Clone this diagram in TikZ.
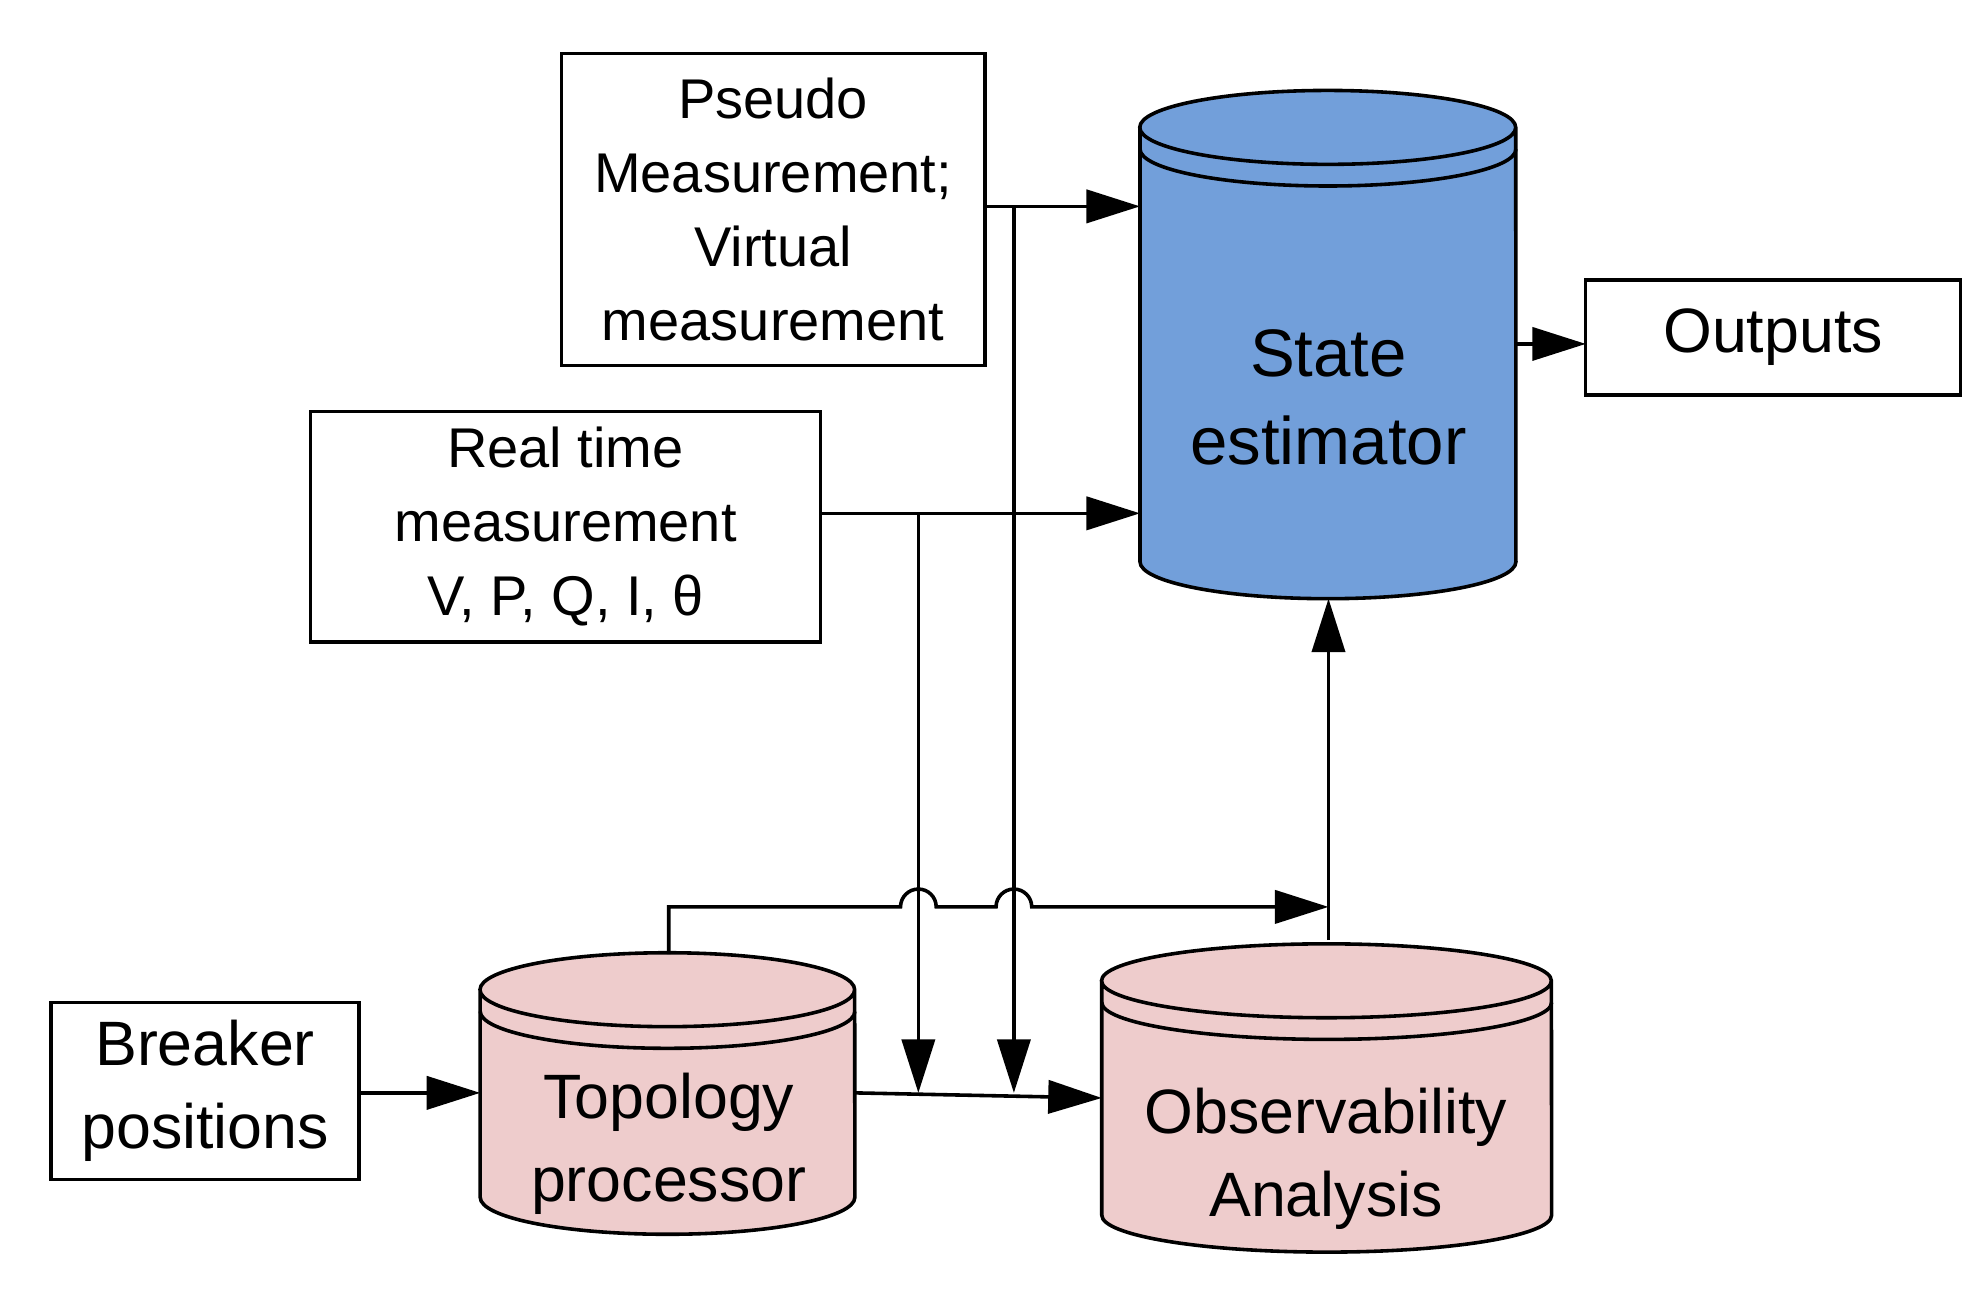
\documentclass[tikz,border=0pt]{standalone}
\usepackage{fontspec}
\setmainfont{Liberation Sans}
\usetikzlibrary{arrows.meta}
\definecolor{blueC}{HTML}{729FDA}
\definecolor{pinkC}{HTML}{EECCCC}
\newcommand{\mycyl}[6]{% x1 x2 ytop ybot rx(cm) fill ; ry fixed
  \fill[#6] (#1,#3) -- (#1,#4) arc[start angle=180,end angle=360,x radius=#5,y radius=0.29cm] -- (#2,#3) arc[start angle=0,end angle=180,x radius=#5,y radius=0.29cm] -- cycle;
  \draw[line width=0.8pt] (#1,#3) -- (#1,#4) arc[start angle=180,end angle=360,x radius=#5,y radius=0.29cm] -- (#2,#3) arc[start angle=0,end angle=360,x radius=#5,y radius=0.29cm];
  \draw[line width=0.8pt] (#1,#3+17) arc[start angle=180,end angle=360,x radius=#5,y radius=0.29cm];
}
\begin{document}
\begin{tikzpicture}[x=0.01cm,y=-0.01cm,
  box/.style={draw,line width=0.8pt,align=center,inner sep=0pt,font=\fontsize{12.5}{16.5}\selectfont},
  lbl/.style={align=center,font=\fontsize{14}{18.5}\selectfont},
  arr/.style={line width=0.8pt,-{Triangle[length=0.42cm,width=0.26cm]}},
  ln/.style={line width=0.8pt}]
\useasboundingbox (0,0) rectangle (1560,1020);
% boxes
\node[box,minimum width=3.32cm,minimum height=2.45cm] (pseudo) at (607,164.5) {Pseudo\\Measurement;\\Virtual\\measurement};
\node[box,minimum width=4.0cm,minimum height=1.81cm] (real) at (444,413.5) {Real time\\measurement\\V, P, Q, I, θ};
\node[box,minimum width=2.42cm,minimum height=1.39cm,font=\fontsize{14}{18.5}\selectfont] (breaker) at (161,856.5) {Breaker\\positions};
\node[box,minimum width=2.94cm,minimum height=0.9cm,font=\fontsize{14}{18.5}\selectfont] (out) at (1392,265) {Outputs};
% cylinders
\mycyl{895}{1190}{100}{441}{1.475cm}{blueC}
\node[lbl,font=\fontsize{15}{19.5}\selectfont] (se) at (1043,312) {State\\estimator};
\mycyl{377}{671}{777}{940}{1.47cm}{pinkC}
\node[lbl] (topo) at (525,898) {Topology\\processor};
\mycyl{865}{1218}{770}{954}{1.765cm}{pinkC}
\node[lbl] (obs) at (1041,910) {Observability\\Analysis};
% coordinates
\coordinate (p1) at (773,162); \coordinate (s1) at (895,162);
\coordinate (r1) at (644,403); \coordinate (s2) at (895,403);
\coordinate (v1t) at (796,162); \coordinate (v1b) at (796,858);
\coordinate (v2t) at (721,403); \coordinate (v2b) at (721,858);
\coordinate (t1) at (671,858); \coordinate (o1) at (865,862);
\coordinate (b1) at (282,858); \coordinate (t2) at (377,858);
\coordinate (ttop) at (525,749); \coordinate (ojoin) at (1043,712);
\coordinate (otop) at (1043,738); \coordinate (sbot) at (1043,470);
\coordinate (so) at (1190,270); \coordinate (oin) at (1245,270);
% connectors
\draw[arr] (p1) -- (s1);
\draw[arr] (r1) -- (s2);
\draw[arr] (v1t) -- (v1b);
\draw[arr] (v2t) -- (v2b);
\draw[arr] (t1) -- (o1);
\draw[arr] (b1) -- (t2);
\draw[arr] (so) -- (oin);
\draw[arr] (otop) -- (sbot);
\draw[arr] (ttop) |- (707,712) arc[start angle=180,end angle=0,radius=0.14cm] -- (782,712) arc[start angle=180,end angle=0,radius=0.14cm] -- (ojoin);
\end{tikzpicture}
\end{document}
